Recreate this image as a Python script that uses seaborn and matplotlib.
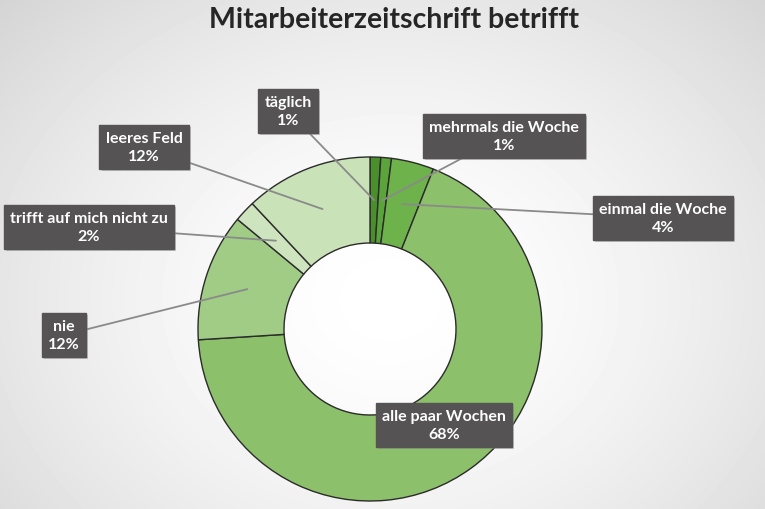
import numpy as np
import matplotlib
matplotlib.use("Agg")
import matplotlib.pyplot as plt
import matplotlib.patheffects as pe
import seaborn as sns

categories = ["täglich", "mehrmals die Woche", "einmal die Woche", "alle paar Wochen",
              "nie", "trifft auf mich nicht zu", "leeres Feld"]
values = [1, 1, 4, 68, 12, 2, 12]
colors = ["#4b8f2c", "#5ba43b", "#6db24a", "#8dc06b", "#a0cc86", "#cde4bf", "#c9e2b8"]
title = "Mitarbeiterzeitschrift betrifft"

# label box centres (pixel coords, y from top)
label_pos = [(288, 112), (504, 137), (663, 219), (444, 426), (64, 336), (89, 228), (144, 148)]
show_line = [True, True, True, False, True, True, True]

sns.set_theme(style="white")
plt.rcParams['font.family'] = ['Lato', 'DejaVu Sans']

W, H = 765, 510
fig = plt.figure(figsize=(W / 100, H / 100), dpi=100)

# background radial gradient
bg = fig.add_axes([0, 0, 1, 1])
yy, xx = np.mgrid[0:H, 0:W]
d = np.sqrt(((xx - 390) / 520.0) ** 2 + ((yy - 300) / 420.0) ** 2)
shade = 1.0 - 0.16 * np.clip(d, 0, 1.2) ** 1.6
bg.imshow(shade, cmap="gray", vmin=0, vmax=1, extent=[0, W, H, 0], aspect="auto")
bg.axis("off")

ax = fig.add_axes([0, 0, 1, 1])
ax.set_xlim(0, W)
ax.set_ylim(0, H)
ax.patch.set_alpha(0)

cx, cy = 370, H - 330
R, w = 172, 86
wedges, _ = ax.pie(values, colors=colors, startangle=90, counterclock=False,
                   center=(cx, cy), radius=R,
                   wedgeprops=dict(width=w, edgecolor="#2b2b2b", linewidth=1.0))
ax.set_xlim(0, W)
ax.set_ylim(0, H)
ax.axis("off")

for wdg, cat, val, (lx, ly), sl in zip(wedges, categories, values, label_pos, show_line):
    ang = np.deg2rad((wdg.theta1 + wdg.theta2) / 2)
    rm = R - w / 2
    ax_pt = (cx + rm * np.cos(ang), cy + rm * np.sin(ang))
    txt = f"{cat}\n{val}%"
    arrow = dict(arrowstyle="-", color="#8a8a8a", lw=1.3, shrinkA=0, shrinkB=0) if sl else None
    t = ax.annotate(txt, xy=ax_pt, xytext=(lx, H - ly), ha="center", va="center",
                    color="white", fontsize=11.5, fontweight="bold", linespacing=1.3,
                    bbox=dict(boxstyle="square,pad=0.38", fc="#555353", ec="#555353"),
                    arrowprops=arrow)
    t.get_bbox_patch().set_path_effects([
        pe.SimplePatchShadow(offset=(1.5, -1.5), shadow_rgbFace="#888888", alpha=0.45),
        pe.Normal()])

fig.text(394 / W, 1 - 20 / H, title, ha="center", va="center",
         fontsize=20.5, fontweight="bold", color="#262626")

fig.savefig("out.png", dpi=100)
